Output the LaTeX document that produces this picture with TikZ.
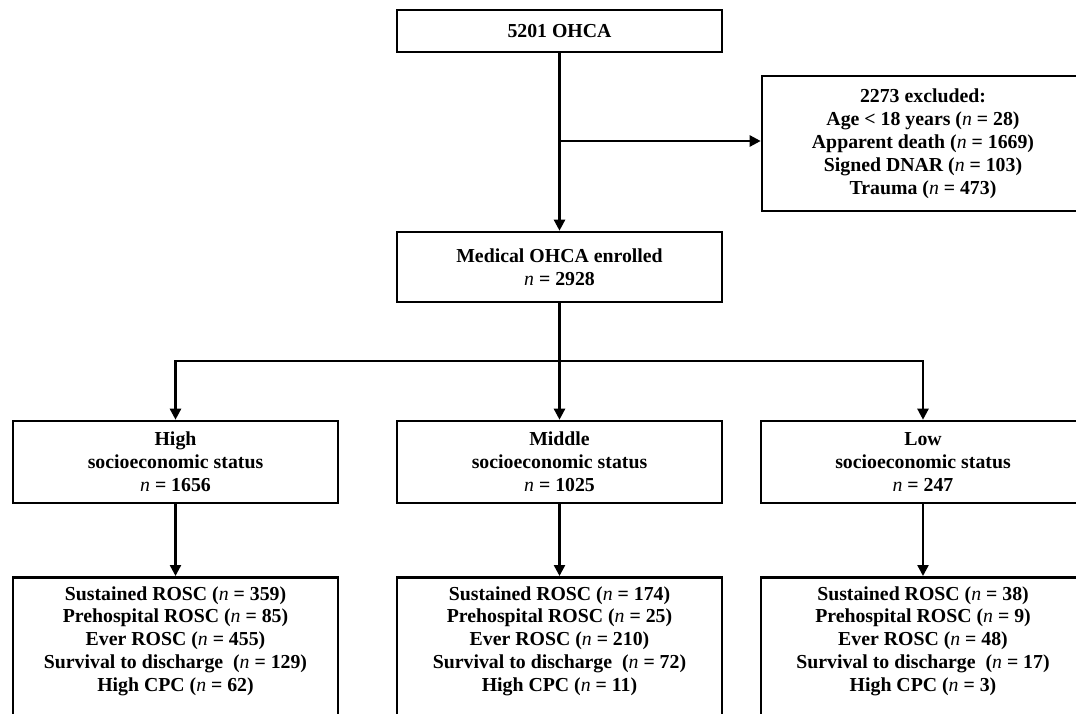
\documentclass[tikz,border=0pt]{standalone}
\usepackage{fontspec}
\setmainfont{Liberation Serif}
\usetikzlibrary{arrows.meta}
\newcommand{\nn}{\textnormal{\textit{n}}}
\begin{document}
\begin{tikzpicture}[x=1pt,y=-1pt,
  box/.style={draw=black, line width=2.6pt, fill=white, align=center, inner sep=0pt,
    font=\fontsize{19.8}{23}\selectfont\bfseries},
  txt/.style={align=center, inner sep=0pt, font=\fontsize{19.8}{22.8}\selectfont\bfseries},
  conn/.style={draw=black, line width=2.4pt},
  arr/.style={conn, -{Triangle[length=11pt,width=11pt]}}]
\useasboundingbox (0,0) rectangle (1076,713);
\fill[white] (0,0) rectangle (1076,713);

\node[box, minimum width=325pt, minimum height=42pt] (top) at (559.5,31) {5201 OHCA};
\node[box, minimum width=322pt, minimum height=135pt] (excl) at (923,143.5)
  {2273 excluded:\\ Age < 18 years (\nn{} = 28)\\ Apparent death (\nn{} = 1669)\\ Signed DNAR (\nn{} = 103)\\ Trauma (\nn{} = 473)};
\node[box, minimum width=325pt, minimum height=70pt] (med) at (559.5,267)
  {Medical OHCA enrolled\\ \nn{} = 2928};

\node[box, minimum width=325pt, minimum height=82pt] (hi) at (175.5,462)
  {High\\ socioeconomic status\\ \nn{} = 1656};
\node[box, minimum width=325pt, minimum height=82pt] (mid) at (559.5,462)
  {Middle\\ socioeconomic status\\ \nn{} = 1025};
\node[box, minimum width=324pt, minimum height=82pt] (lo) at (923,462)
  {Low\\ socioeconomic status\\ \nn{} = 247};

\node[box, minimum width=325pt, minimum height=170pt, anchor=north] (hb) at (175.5,576) {};
\node[box, minimum width=325pt, minimum height=170pt, anchor=north] (mb) at (559.5,576) {};
\node[box, minimum width=324pt, minimum height=170pt, anchor=north] (lb) at (923,576) {};

\node[txt] (hbt) at (175.5,641)
  {Sustained ROSC (\nn{} = 359)\\ Prehospital ROSC (\nn{} = 85)\\ Ever ROSC (\nn{} = 455)\\ Survival to discharge\ \ (\nn{} = 129)\\ High CPC (\nn{} = 62)};
\node[txt] (mbt) at (559.5,641)
  {Sustained ROSC (\nn{} = 174)\\ Prehospital ROSC (\nn{} = 25)\\ Ever ROSC (\nn{} = 210)\\ Survival to discharge\ \ (\nn{} = 72)\\ High CPC (\nn{} = 11)};
\node[txt] (lbt) at (923,641)
  {Sustained ROSC (\nn{} = 38)\\ Prehospital ROSC (\nn{} = 9)\\ Ever ROSC (\nn{} = 48)\\ Survival to discharge\ \ (\nn{} = 17)\\ High CPC (\nn{} = 3)};

\coordinate (b1) at (559.5,141);
\coordinate (split) at (559.5,361);

\draw[arr] (top.south) -- (med.north);
\draw[arr] (b1) -- (b1 -| excl.west);
\draw[arr] (med.south) -- (mid.north);
\draw[arr] (split) -| (hi.north);
\draw[arr] (split) -| (lo.north);
\draw[arr] (hi.south) -- (hb.north);
\draw[arr] (mid.south) -- (mb.north);
\draw[arr] (lo.south) -- (lb.north);
\end{tikzpicture}
\end{document}
